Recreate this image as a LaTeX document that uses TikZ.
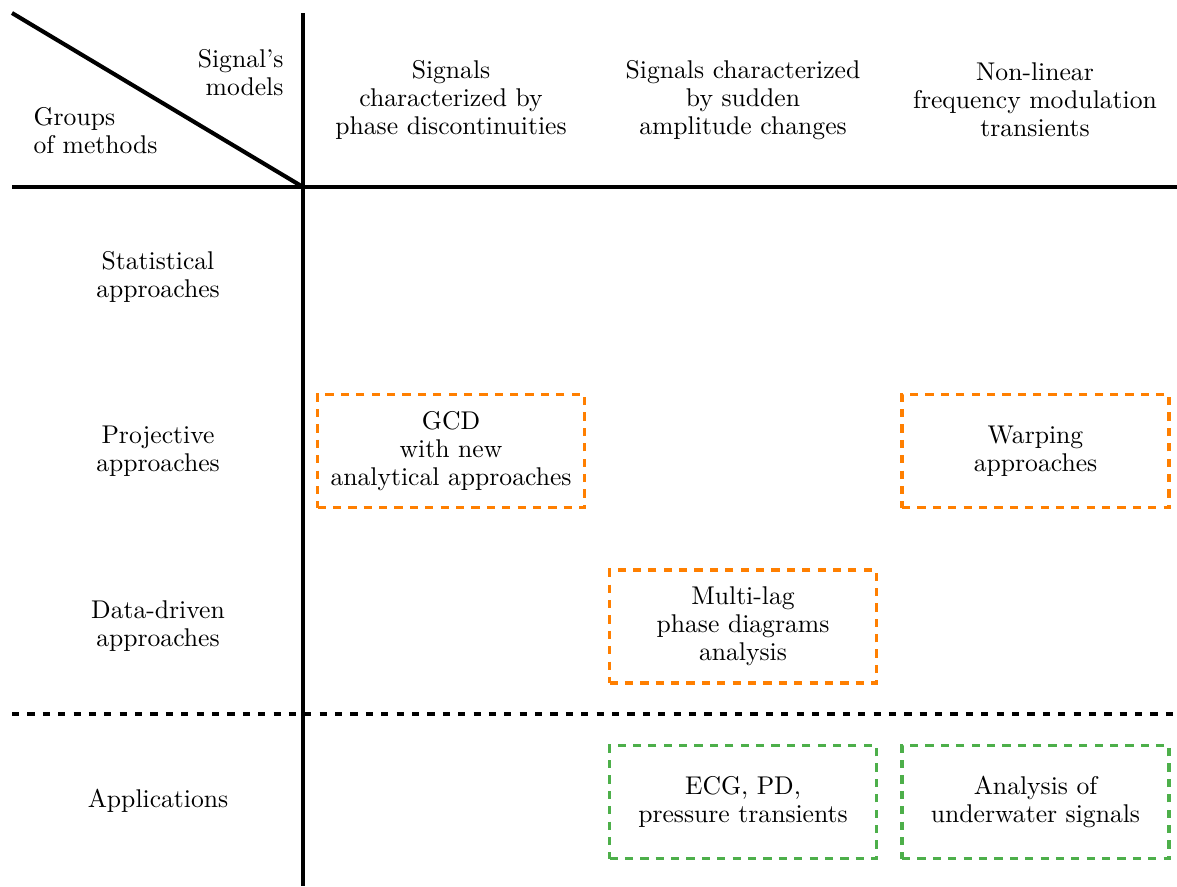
\documentclass[tikz,border=0pt]{standalone}
\usetikzlibrary{positioning}
\definecolor{boxorange}{HTML}{FF7F00}
\definecolor{boxgreen}{HTML}{4DAF4A}
\begin{document}
\begin{tikzpicture}[x=0.39pt,y=-0.39pt,
  txt/.style={align=center,inner sep=0pt,font=\fontsize{10}{10.9}\selectfont},
  gridline/.style={line width=1.6pt},
  gridsep/.style={line width=1.4pt,dash pattern=on 2.8pt off 3.2pt},
  cellbox/.style={txt,draw,line width=1.4pt,dash pattern=on 3.2pt off 2.8pt,
    minimum width=104.1pt,minimum height=44.1pt},
  orangebox/.style={cellbox,draw=boxorange},
  greenbox/.style={cellbox,draw=boxgreen}]
\useasboundingbox (0,0) rectangle (1177,886);
% grid
\coordinate (corner) at (303,187);
\coordinate (diagstart) at (12,13);
\coordinate (vtop) at (303,13);
\coordinate (vbot) at (303,886);
\coordinate (hleft) at (12,187);
\coordinate (hright) at (1177,187);
\coordinate (dleft) at (12,714);
\coordinate (dright) at (1177,714);
\draw[gridline] (diagstart) -- (corner);
\draw[gridline] (vtop) -- (vbot);
\draw[gridline] (hleft) -- (hright);
\draw[gridsep] (dleft) -- (dright);
% corner labels
\node[txt,align=right,anchor=east] (models) at (284,73) {Signal's\\models};
\node[txt,align=left,anchor=west] (groups) at (33,131) {Groups\\of methods};
% column headers
\node[txt] (col1) at (451,100) {Signals\\characterized by\\phase discontinuities};
\node[txt] (col2) at (743,100) {Signals characterized\\by sudden\\amplitude changes};
\node[txt] (col3) at (1035,100) {Non-linear\\frequency modulation\\transients};
% row labels
\node[txt] (row1) at (158,277) {Statistical\\approaches};
\node[txt] (row2) at (158,451) {Projective\\approaches};
\node[txt] (row3) at (158,626) {Data-driven\\approaches};
\node[txt] (row4) at (158,801) {Applications};
% cells
\node[orangebox] (gcd) at (451,451) {GCD\\with new\\analytical approaches};
\node[orangebox] (warp) at (1035.5,451) {Warping\\approaches};
\node[orangebox] (mlag) at (743,626.5) {Multi-lag\\phase diagrams\\analysis};
\node[greenbox] (ecg) at (743,802) {ECG, PD,\\pressure transients};
\node[greenbox] (uw) at (1035.5,802) {Analysis of\\underwater signals};
\end{tikzpicture}
\end{document}
